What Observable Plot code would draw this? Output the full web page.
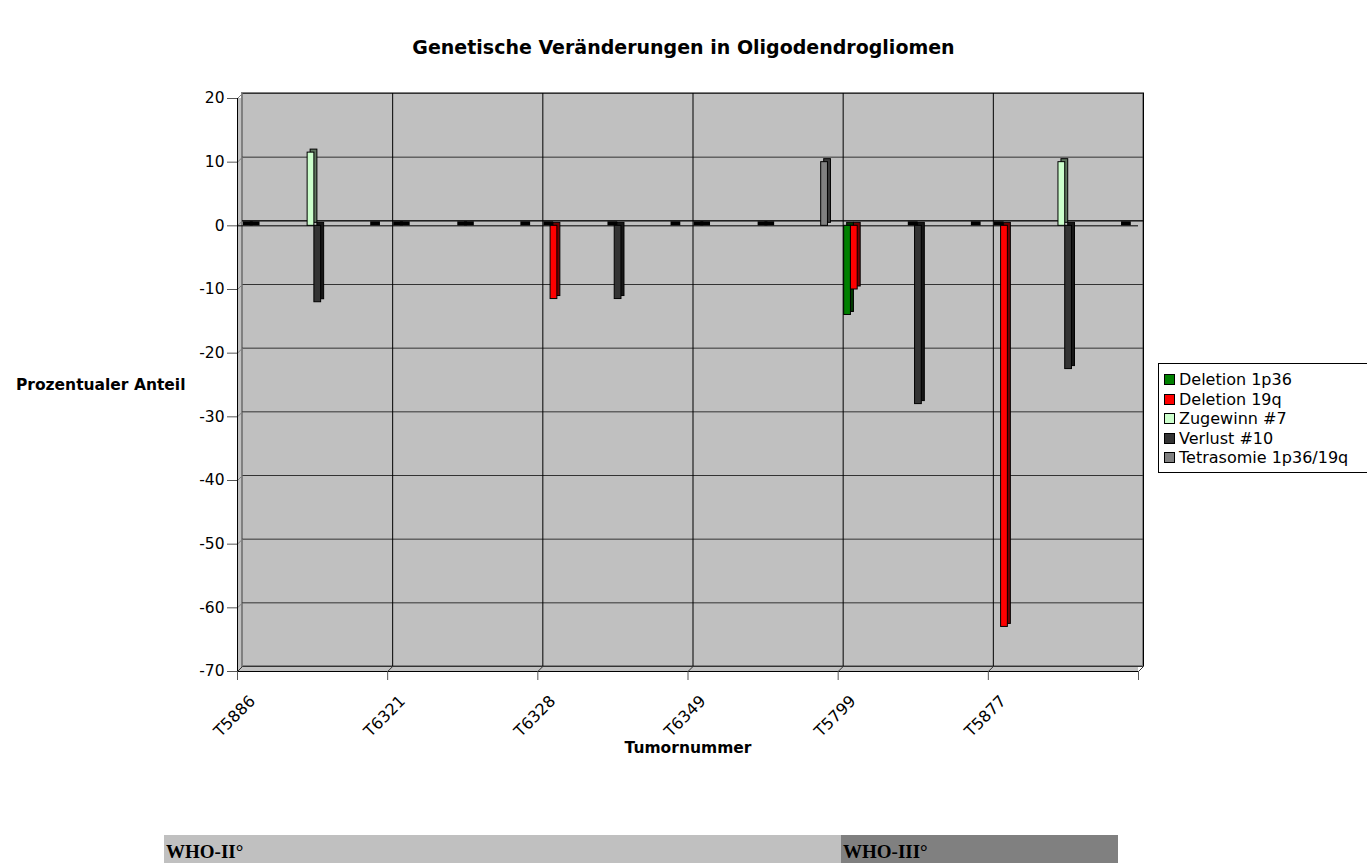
<!DOCTYPE html>
<html>
<head>
<meta charset="utf-8">
<script src="https://cdn.jsdelivr.net/npm/d3@7"></script>
<script src="https://cdn.jsdelivr.net/npm/@observablehq/plot@0.6"></script>
<style>
  body { margin:0; background:#fff; width:1367px; height:863px; overflow:hidden; position:relative; font-family:"DejaVu Sans", sans-serif; }
  #title { position:absolute; left:0; top:28px; width:1367px; text-align:center; font-weight:bold; font-size:19px; line-height:38px; }
  #chart { position:absolute; left:0; top:38px; }
  #legend { position:absolute; left:1158px; top:363px; width:230px; border:1px solid #000; background:#fff; padding:6px 0 4px 5px; box-sizing:border-box; }
  #legend .item { display:flex; align-items:center; height:19.5px; font-size:16px; white-space:nowrap; }
  #legend .sw { width:9px; height:9px; border:1px solid #000; margin-right:4px; flex:none; }
  .who { position:absolute; top:835px; height:40px; font-family:"Liberation Serif","Times New Roman",serif; font-weight:bold; font-size:19px; padding:6px 0 0 2px; box-sizing:border-box; }
</style>
</head>
<body>
<div id="title"></div>
<div id="chart"></div>
<div id="legend"></div>
<div id="who"></div>
<script>
// ---- data ----
const titleText = "Genetische Veränderungen in Oligodendrogliomen";
const tumors = ["T5886", "T6321", "T6328", "T6349", "T5799", "T5877"];
const series = ["Deletion 1p36", "Deletion 19q", "Zugewinn #7", "Verlust #10", "Tetrasomie 1p36/19q"];
const colors = ["#008000", "#FF0000", "#CCFFCC", "#333333", "#808080"];
const deletion1p36 = [0, 0, 0, 0, -14, 0];
const deletion19q  = [0, 0, -11.5, 0, -10, -63];
const zugewinn7    = [11.5, 0, 0, 0, 0, 10];
const verlust10    = [-12, 0, -11.5, 0, -28, -22.5];
const tetrasomie   = [0, 0, 0, 10, 0, 0];
const yTicks = [20, 10, 0, -10, -20, -30, -40, -50, -60, -70];
const grades = ["WHO-II°", "WHO-III°"];

// ---- layout ----
const W = 1367, H = 762;
const mL = 237, mR = 229, mT = 60, mB = 129;
const slotX = [0.04, 0.085, 0.467, 0.512, 0.887]; // bar start within a category
const barW = 0.045;
const DEPTH = 5;      // wall depth (px)
const BAR_DEPTH = 3;  // bar depth (px)

const values = [deletion1p36, deletion19q, zugewinn7, verlust10, tetrasomie];
const rows = [];
tumors.forEach((t, i) => values.forEach((v, s) => rows.push({tumor: t, i, s, series: series[s], value: v[i], color: colors[s]})));
const nonzero = rows.filter(d => d.value !== 0);
const zeros = rows.filter(d => d.value === 0);
const x1 = d => d.i + slotX[d.s];
const x2 = d => d.i + slotX[d.s] + barW;
const side = c => d3.color(c).darker(2.2).formatHex();

const n = tumors.length;
const yMin = d3.min(yTicks), yMax = d3.max(yTicks);
const plotW = W - mL - mR, plotH = H - mT - mB;
const ddx = DEPTH * n / plotW;               // depth in data units (x)
const ddy = DEPTH * (yMax - yMin) / plotH;   // depth in data units (y)
const xTicks = d3.range(n + 1);

const wall = [{x1: 0, x2: n, y1: yMin, y2: yMax}];

const chart = Plot.plot({
  width: W, height: H,
  marginLeft: mL, marginRight: mR, marginTop: mT, marginBottom: mB,
  x: {domain: [0, n]},
  y: {domain: [yMin, yMax]},
  style: {fontFamily: "'DejaVu Sans', sans-serif", fontSize: "15px", background: "transparent", color: "#000"},
  marks: [
    // walls
    Plot.rect(wall, {x1: "x1", x2: "x2", y1: "y1", y2: "y2", fill: "#C0C0C0"}),
    Plot.rect(wall, {x1: "x1", x2: "x2", y1: "y1", y2: "y2", dx: DEPTH, dy: -DEPTH, fill: "#C0C0C0", stroke: "#808080", strokeWidth: 2}),
    // gridlines on back wall
    Plot.ruleY(yTicks, {x1: 0, x2: n, dx: DEPTH, dy: -DEPTH, stroke: "#333", strokeWidth: 1}),
    Plot.ruleX(xTicks.slice(1), {y1: yMin, y2: yMax, dx: DEPTH, dy: -DEPTH, stroke: "#000", strokeWidth: 1}),
    // side wall / floor diagonals
    Plot.link(yTicks, {x1: 0, y1: d => d, x2: ddx, y2: d => d + ddy, stroke: "#808080"}),
    Plot.link(xTicks, {x1: d => d, y1: yMin, x2: d => d + ddx, y2: yMin + ddy, stroke: "#333"}),
    // zero floor
    Plot.ruleY([0], {x1: 0, x2: n, stroke: "#000"}),
    Plot.ruleY([0], {x1: 0, x2: n, dx: DEPTH, dy: -DEPTH, stroke: "#000"}),
    // zero-height bars
    Plot.rect(zeros, {x1, x2, y1: 0, y2: 0, insetTop: -4, insetRight: -BAR_DEPTH, fill: "#000"}),
    // bars: depth then front
    Plot.rect(nonzero, {x1, x2, y1: 0, y2: "value", dx: BAR_DEPTH, dy: -BAR_DEPTH, fill: d => side(d.color), stroke: "#000", strokeWidth: 1}),
    Plot.rect(nonzero, {x1, x2, y1: 0, y2: "value", fill: "color", stroke: "#000", strokeWidth: 1}),
    // axis lines
    Plot.ruleX([0], {y1: yMin, y2: yMax, stroke: "#000"}),
    Plot.ruleY([yMin], {x1: 0, x2: n, stroke: "#000"}),
    Plot.axisY(yTicks, {tickSize: 10, tickPadding: 3, tickFormat: d => String(d), label: null, fontSize: 15.5, stroke: "#555"}),
    // x ticks (marks only) and rotated labels
    Plot.axisX(xTicks, {tickSize: 9, tickFormat: () => "", label: null, stroke: "#555"}),
    Plot.axisX(xTicks, {tickSize: 0, tickPadding: 13, tickFormat: i => tumors[i] ?? "", tickRotate: -45, label: null, fontSize: 16, dx: 15, dy: 14}),
    // axis titles
    Plot.text(["Prozentualer Anteil"], {frameAnchor: "left", dx: -52, textAnchor: "end", fontWeight: "bold", fontSize: 15.5}),
    Plot.text(["Tumornummer"], {frameAnchor: "bottom", dy: 81, fontWeight: "bold", fontSize: 15.5})
  ]
});
document.getElementById("chart").appendChild(chart);
document.getElementById("title").textContent = titleText;

// legend
const legend = document.getElementById("legend");
series.forEach((s, k) => {
  const it = document.createElement("div");
  it.className = "item";
  it.innerHTML = `<span class="sw" style="background:${colors[k]}"></span><span>${s}</span>`;
  legend.appendChild(it);
});

// WHO grade bars
const who = document.getElementById("who");
const whoStyle = [{left: 164, width: 677, bg: "#C0C0C0"}, {left: 841, width: 277, bg: "#808080"}];
grades.forEach((g, k) => {
  const b = document.createElement("div");
  b.className = "who";
  b.style.left = whoStyle[k].left + "px";
  b.style.width = whoStyle[k].width + "px";
  b.style.background = whoStyle[k].bg;
  b.textContent = g;
  who.appendChild(b);
});
</script>
</body>
</html>
